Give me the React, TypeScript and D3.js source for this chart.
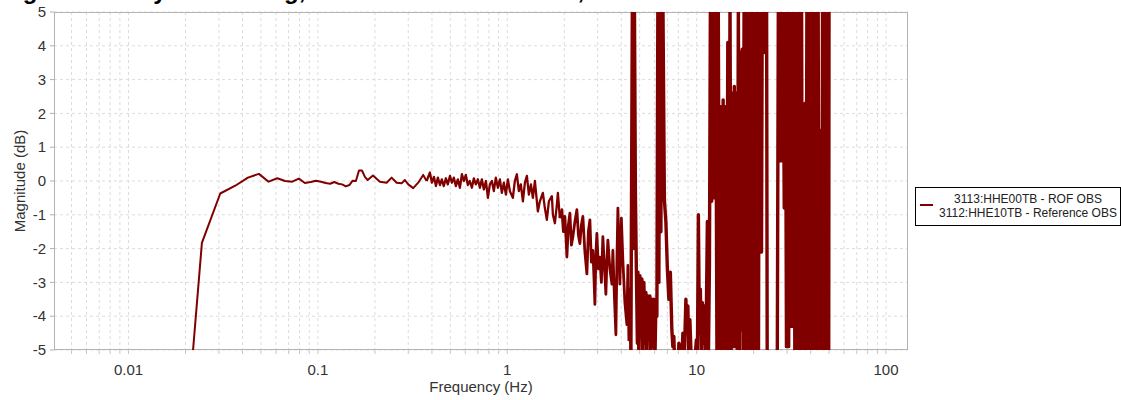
import * as d3 from "d3";

// spectral ratio, smooth low-frequency part (Hz, dB)
const smoothFreq = [
  0.0183, 0.0244, 0.0305, 0.0366, 0.0427, 0.0488, 0.0549, 0.061, 0.0671, 0.0732,
  0.0793, 0.0854, 0.0916, 0.0977, 0.1038, 0.1099, 0.116, 0.1221, 0.1282, 0.1343,
  0.1404, 0.1465, 0.1526, 0.1587, 0.1648, 0.1709, 0.177, 0.1831, 0.1953, 0.2124,
  0.2305, 0.245, 0.2603, 0.2767, 0.2879, 0.2998, 0.3186, 0.3385, 0.3597, 0.375,
];
const smoothDb = [
  -10.3, -1.83, -0.37, -0.14, 0.1, 0.21, -0.02, 0.08, 0.0, -0.02,
  0.07, -0.06, -0.03, 0.01, -0.02, -0.06, -0.08, -0.03, -0.08, -0.1,
  -0.16, -0.12, 0.01, 0.0, 0.31, 0.31, 0.12, 0.03, 0.16, -0.02,
  -0.05, 0.1, -0.05, -0.07, 0.03, -0.1, -0.21, -0.05, 0.18, 0.0,
];

// noisy mid band 0.39 - 4.5 Hz
const midFreq = [
  0.39, 0.4, 0.41, 0.42, 0.43, 0.441, 0.451, 0.462, 0.474, 0.485,
  0.498, 0.51, 0.522, 0.535, 0.548, 0.562, 0.576, 0.59, 0.604, 0.619,
  0.634, 0.65, 0.666, 0.682, 0.699, 0.717, 0.734, 0.752, 0.771, 0.79,
  0.809, 0.829, 0.849, 0.87, 0.892, 0.914, 0.936, 0.959, 0.983, 1.007,
  1.032, 1.07, 1.096, 1.123, 1.151, 1.179, 1.209, 1.239, 1.269, 1.3,
  1.333, 1.365, 1.399, 1.45, 1.486, 1.541, 1.579, 1.618, 1.658, 1.72,
  1.741, 1.784, 1.828, 1.85, 1.895, 1.942, 1.978, 2.014, 2.039, 2.064,
  2.102, 2.141, 2.18, 2.22, 2.275, 2.331, 2.374, 2.417, 2.462, 2.507,
  2.569, 2.632, 2.68, 2.73, 2.78, 2.831, 2.866, 2.901, 2.936, 2.972,
  3.027, 3.082, 3.139, 3.197, 3.256, 3.316, 3.356, 3.397, 3.481, 3.567,
  3.61, 3.677, 3.745, 3.791, 3.837, 3.884, 3.931, 4.003, 4.077, 4.178,
  4.281, 4.333, 4.386, 4.44, 4.494,
];
const midDb = [
  0.25, -0.05, 0.12, -0.15, 0.1, -0.12, 0.05, -0.15, 0.08, -0.1,
  0.15, -0.05, 0.1, -0.15, 0.05, -0.2, 0.2, 0.0, 0.18, -0.12,
  0.0, -0.2, 0.08, -0.1, 0.05, -0.2, 0.05, -0.25, 0.0, -0.5,
  -0.1, 0.0, -0.3, 0.1, -0.2, 0.05, -0.35, -0.05, -0.4, 0.05,
  -0.3, -0.5, 0.0, 0.2, -0.3, -0.1, -0.6, -0.05, 0.15, -0.4,
  -0.1, -0.5, 0.0, -0.9, -0.6, -0.35, -0.8, -1.15, -0.6, -0.45,
  -1.0, -1.25, -0.7, -0.35, -1.1, -0.85, -1.5, -1.05, -1.6, -2.25,
  -1.3, -0.95, -1.9, -1.65, -1.2, -0.85, -1.6, -1.85, -1.3, -1.05,
  -2.1, -2.75, -1.5, -1.15, -2.4, -2.05, -2.8, -3.65, -2.2, -1.55,
  -2.6, -2.25, -3.0, -1.65, -2.5, -3.35, -2.4, -1.75, -2.6, -3.05,
  -2.05, -3.4, -4.55, -2.4, -0.8, -1.9, -3.05, -1.1, -2.35, -3.6,
  -4.25, -2.5, -4.7, -3.2, -5.4,
];

// spikes and saturated band 4.5 - 50 Hz
const highFreq = [
  4.521, 4.577, 4.633, 4.69, 4.747, 4.805, 4.864, 4.894, 4.954, 5.013,
  5.075, 5.137, 5.2, 5.263, 5.328, 5.393, 5.459, 5.526, 5.593, 5.661,
  5.73, 5.801, 5.872, 5.943, 6.016, 6.09, 6.165, 6.24, 6.316, 6.393,
  6.472, 6.551, 6.631, 6.753, 6.877, 7.003, 7.131, 7.262, 7.395, 7.485,
  7.577, 7.671, 7.956, 8.053, 8.152, 8.353, 8.455, 8.611, 8.769, 8.876,
  8.985, 9.095, 9.207, 9.376, 9.548, 9.784, 9.964, 10.09, 10.21, 10.34,
  10.46, 10.59, 10.72, 10.85, 10.99, 11.12, 11.26, 11.39, 11.53, 11.68,
  11.82, 12.0, 12.2, 12.4, 12.6, 12.8, 13.0, 13.2, 13.4, 13.6,
  13.8, 14.0, 14.2, 14.4, 14.6, 14.8, 15.0, 15.2, 15.4, 15.6,
  15.8, 16.0, 16.2, 16.4, 16.6, 16.8, 17.0, 17.2, 17.4, 17.6,
  17.8, 18.0, 18.2, 18.4, 18.6, 18.8, 19.0, 19.2, 19.4, 19.6,
  19.8, 20.0, 20.2, 20.4, 20.6, 20.8, 21.0, 21.2, 21.4, 21.6,
  21.8, 22.0, 22.2, 22.4, 22.6, 22.8, 23.0, 23.2, 23.4, 23.6,
  25.0, 26.6, 27.0, 27.4, 27.8, 28.2, 28.6, 29.0, 29.4, 29.8,
  30.2, 30.6, 31.0, 31.4, 31.8, 32.2, 32.6, 33.0, 33.4, 33.8,
  34.2, 34.6, 35.0, 35.4, 35.8, 36.2, 36.6, 37.0, 37.4, 37.8,
  38.2, 38.6, 39.0, 39.4, 39.8, 40.2, 40.6, 41.0, 41.4, 41.8,
  42.2, 42.6, 43.0, 43.4, 43.8, 44.2, 44.6, 45.0, 45.4, 45.8,
  46.2, 46.6, 47.0, 47.4, 47.8, 48.2, 48.6, 49.0, 49.4, 49.8,
  50.0,
];
const highDb = [
  -1.5, 5.5, -2.0, 5.5, -0.3, -2.7, -4.8, -2.7, -5.3, -2.8,
  -4.6, -2.9, -5.4, -3.0, -4.8, -3.3, -5.3, -3.4, -4.5, -3.4,
  -5.2, -3.5, -4.9, -3.5, -5.4, -3.7, -4.0, 5.5, -3.0, 5.5,
  -1.5, 5.5, 5.5, -0.56, -1.2, -2.6, -3.5, -2.7, -4.4, -4.9,
  -4.6, -5.6, -5.6, -4.8, -4.9, -5.3, -4.5, -5.2, -3.5, -4.2,
  -3.7, -5.3, -4.1, -5.4, -5.6, -5.3, -4.7, -5.3, -1.0, -4.5,
  -3.2, -5.2, -3.6, -4.8, -3.7, -5.2, -3.7, -1.2, -5.3, -2.5,
  5.5, -0.6, 5.5, -0.5, 5.5, -5.5, 5.5, -5.5, 2.2, -5.5,
  2.4, -5.5, 2.2, -5.5, 4.1, -5.5, 5.5, -5.5, 2.6, -4.9,
  2.8, -4.9, 2.6, -5.5, 5.5, -5.5, 3.8, -4.4, 3.9, -5.5,
  5.5, -5.5, 5.5, -5.5, 5.5, -5.5, 5.5, -5.5, 5.5, -5.5,
  5.5, -5.5, 5.5, -5.5, 5.5, -5.5, 5.5, -5.5, 5.5, -2.1,
  5.5, -2.1, 5.5, 4.0, 5.5, 3.8, 5.5, 4.2, 5.5, -7.0,
  -6.5, -6.8, 5.5, 0.6, 5.5, 0.6, 5.5, -0.8, 5.5, -4.9,
  5.5, -4.9, 5.5, -4.3, 5.5, -4.3, 5.5, -5.5, 5.5, -5.5,
  5.5, -5.5, 5.5, -5.5, 5.5, -5.5, 2.2, -5.5, 2.3, -5.5,
  5.5, -5.5, 4.0, -5.5, 5.5, -5.5, 5.5, -5.5, 5.5, -5.5,
  5.5, -5.5, 5.5, -5.5, 5.5, -5.5, 1.5, -5.5, 1.3, -5.5,
  5.5, -5.5, 5.5, -5.5, 5.5, -5.5, 5.5, -5.5, 5.5, -5.5,
  5.5,
];

const yTicks = [-5, -4, -3, -2, -1, 0, 1, 2, 3, 4, 5];
const xLabels = [0.01, 0.1, 1, 10, 100];
const legendLines = ["3113:HHE00TB - ROF OBS", "3112:HHE10TB - Reference OBS"];
const title = "Signal Gain by Smoothing, ROF vs Reference OBS, HHE";

const WIDTH = 1121;
const HEIGHT = 400;
const plot = { left: 54, right: 908, top: 12, bottom: 350 };
const color = "#800000";
const font = "'Liberation Sans', Arial, sans-serif";

type Pt = { f: number; v: number };

const toPts = (fs: number[], vs: number[]): Pt[] => fs.map((f, i) => ({ f, v: vs[i] }));

export default function App() {
  const smooth = toPts(smoothFreq, smoothDb);
  const mid = toPts(midFreq, midDb);
  const high = toPts(highFreq, highDb);
  // the scatter thickens above ~1.9 Hz, so that part is stroked a bit heavier
  const cut = mid.findIndex((p) => p.f > 1.9);
  const midA = mid.slice(0, cut);
  const midB = mid.slice(cut - 1);
  // each segment starts where the previous one ended, so the trace stays joined
  const segments = [
    { pts: smooth, width: 2 },
    { pts: [smooth[smooth.length - 1], ...midA], width: 2.3 },
    { pts: midB, width: 2.8 },
    { pts: [mid[mid.length - 1], ...high], width: 3.4 },
  ];

  const xScale = d3
    .scaleLog()
    .domain([0.00404, 130.6])
    .range([plot.left, plot.right]);
  const yScale = d3.scaleLinear().domain([-5, 5]).range([plot.bottom, plot.top]);

  const line = d3
    .line<Pt>()
    .x((d) => xScale(d.f))
    .y((d) => yScale(d.v));

  // minor log grid: 1..9 x each decade inside the domain
  const gridX: number[] = [];
  for (let e = -3; e <= 2; e++) {
    for (let m = 1; m <= 9; m++) {
      const v = m * Math.pow(10, e);
      if (v > 0.00404 && v < 130.6) gridX.push(v);
    }
  }

  return (
    <svg
      width={WIDTH}
      height={HEIGHT}
      style={{ position: "absolute", left: 0, top: 0, fontFamily: font }}
    >
      <defs>
        <clipPath id="plot-clip">
          <rect
            x={plot.left}
            y={plot.top}
            width={plot.right - plot.left}
            height={plot.bottom - plot.top}
          />
        </clipPath>
      </defs>

      <text x={0} y={-1} fontSize={24} fontWeight="bold" fill="#000">
        {title}
      </text>

      {/* grid */}
      {gridX.map((v, i) => (
        <g key={"gx" + i}>
          <line
            x1={xScale(v)}
            x2={xScale(v)}
            y1={plot.top}
            y2={plot.bottom}
            stroke="#dcdcdc"
            strokeDasharray="3,3"
          />
          <line
            x1={xScale(v)}
            x2={xScale(v)}
            y1={plot.bottom}
            y2={plot.bottom + 4}
            stroke="#c8c8c8"
          />
        </g>
      ))}
      {yTicks.map((t) => (
        <g key={"gy" + t}>
          <line
            x1={plot.left}
            x2={plot.right}
            y1={yScale(t)}
            y2={yScale(t)}
            stroke="#dcdcdc"
            strokeDasharray="3,3"
          />
          <line
            x1={plot.left - 4}
            x2={plot.left}
            y1={yScale(t)}
            y2={yScale(t)}
            stroke="#b0b0b0"
          />
          <text
            x={plot.left - 8}
            y={yScale(t)}
            dy="0.35em"
            textAnchor="end"
            fontSize={15}
            fill="#333"
          >
            {t}
          </text>
        </g>
      ))}

      <rect
        x={plot.left + 0.5}
        y={plot.top + 0.5}
        width={plot.right - plot.left - 1}
        height={plot.bottom - plot.top - 1}
        fill="none"
        stroke="#b4b4b4"
      />

      <g clipPath="url(#plot-clip)">
        {segments.map((s, i) => (
          <path
            key={"seg" + i}
            d={line(s.pts) ?? ""}
            fill="none"
            stroke={color}
            strokeWidth={s.width}
            strokeLinejoin="round"
          />
        ))}
      </g>

      {xLabels.map((t) => (
        <text
          key={"xl" + t}
          x={xScale(t)}
          y={375}
          textAnchor="middle"
          fontSize={15}
          fill="#333"
        >
          {t}
        </text>
      ))}

      <text
        x={(plot.left + plot.right) / 2}
        y={392}
        textAnchor="middle"
        fontSize={15}
        fill="#333"
      >
        Frequency (Hz)
      </text>
      <text
        transform={`translate(25, ${(plot.top + plot.bottom) / 2}) rotate(-90)`}
        textAnchor="middle"
        fontSize={15}
        fill="#333"
      >
        Magnitude (dB)
      </text>

      {/* legend */}
      <rect x={915.5} y={187.5} width={205} height={38} fill="#fff" stroke="#000" />
      <line x1={920} x2={933} y1={205} y2={205} stroke={color} strokeWidth={2} />
      {legendLines.map((t, i) => (
        <text
          key={t}
          x={1028}
          y={203 + i * 14}
          textAnchor="middle"
          fontSize={12}
          fill="#222"
        >
          {t}
        </text>
      ))}
    </svg>
  );
}
